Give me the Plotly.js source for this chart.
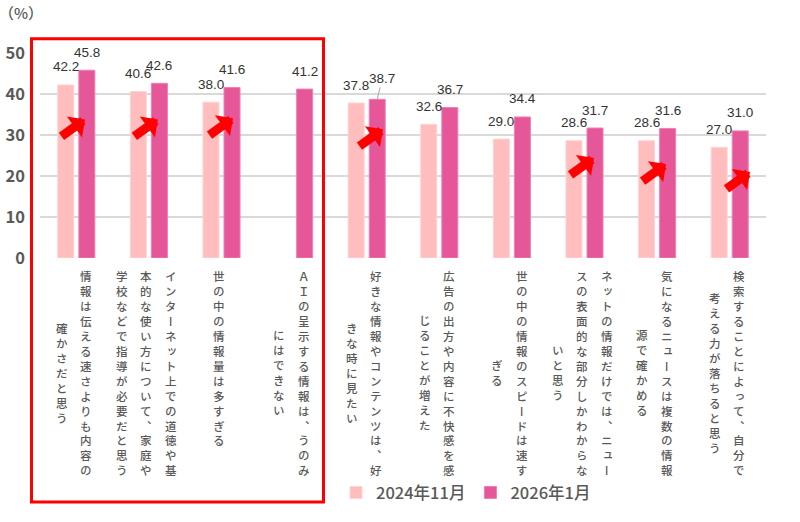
<!DOCTYPE html>
<html>
<head>
<meta charset="utf-8">
<script src="https://cdn.plot.ly/plotly-3.0.1.min.js"></script>
<style>
  html, body { margin: 0; padding: 0; background: #ffffff; }
  #chart { width: 800px; height: 522px; }
</style>
</head>
<body>
<div id="chart"></div>
<script>
// Survey items, one entry per column of vertical text (right column first)
const categoryLines = [
  ["情報は伝える速さよりも内容の", "確かさだと思う"],
  ["インターネット上での道徳や基", "本的な使い方について、家庭や", "学校などで指導が必要だと思う"],
  ["世の中の情報量は多すぎる"],
  ["ＡＩの呈示する情報は、うのみ", "にはできない"],
  ["好きな情報やコンテンツは、好", "きな時に見たい"],
  ["広告の出方や内容に不快感を感", "じることが増えた"],
  ["世の中の情報のスピードは速す", "ぎる"],
  ["ネットの情報だけでは、ニュー", "スの表面的な部分しかわからな", "いと思う"],
  ["気になるニュースは複数の情報", "源で確かめる"],
  ["検索することによって、自分で", "考える力が落ちると思う"]
];
const seriesNames = ["2024年11月", "2026年1月"];
const nov2024 = [42.2, 40.6, 38.0, null, 37.8, 32.6, 29.0, 28.6, 28.6, 27.0];
const jan2026 = [45.8, 42.6, 41.6, 41.2, 38.7, 36.7, 34.4, 31.7, 31.6, 31.0];
const yTicks = [0, 10, 20, 30, 40, 50];
const unitLabel = "（%）";

// Items where the newer value rose notably: [item index, x offset px, y value of tip]
const riseArrows = [
  [0, 8.7, 33.8], [1, 9.0, 33.8], [2, 11.5, 34.1], [4, 16.3, 31.4],
  [7, 9.5, 24.4], [8, 9.0, 22.9], [9, 20.3, 21.0]
];

const categories = categoryLines.map(lines => lines.join(""));

// Frame geometry (pixels)
const W = 800, H = 522, ML = 40, MR = 34, MT = 53, MB = 262;
const plotW = W - ML - MR, plotH = H - MT - MB;
const BARGAP = 0.42, GROUPGAP = 0.24;
const slotW = plotW / categories.length;
const barOffset = slotW * (1 - BARGAP) / 4;
const px = v => (v - ML) / plotW;
const py = v => (MT + plotH - v) / plotH;

const PINK = "#FFBDBD", MAGENTA = "#E6579A";
const JP = "Noto Sans CJK JP, Noto Sans, sans-serif";
const TEXT_GREY = "#595959";

const traces = [
  {
    type: "bar", name: seriesNames[0], x: categories, y: nov2024,
    marker: { color: PINK, line: { color: "#FFD3D3", width: 1 } },
    hoverinfo: "skip"
  },
  {
    type: "bar", name: seriesNames[1], x: categories, y: jan2026,
    marker: { color: MAGENTA, line: { color: "#F07FB0", width: 1 } },
    hoverinfo: "skip"
  }
];

const annotations = [];

// value labels above each bar
[nov2024, jan2026].forEach((series, s) => {
  series.forEach((v, i) => {
    if (v === null) return;
    const a = {
      x: categories[i], y: v, xref: "x", yref: "y",
      text: v.toFixed(1), xanchor: "center", yanchor: "middle",
      xshift: (s === 0 ? -1 : 1) * barOffset,
      font: { family: "Liberation Sans, Arial, sans-serif", size: 13.5, color: "#333333" },
      showarrow: false, yshift: 18
    };
    if (s === 1 && i === 4) {
      // label nudged aside with a leader line
      Object.assign(a, {
        showarrow: true, arrowhead: 0, arrowwidth: 1, arrowcolor: "#A6A6A6",
        ax: 5, ay: -21, standoff: 0, yshift: 0
      });
    }
    annotations.push(a);
  });
});

// red "increase" arrows
riseArrows.forEach(([i, dx, yv]) => {
  annotations.push({
    x: categories[i], y: yv, xref: "x", yref: "y", xshift: dx,
    text: "", showarrow: true, arrowhead: 1, arrowsize: 0.48, arrowwidth: 9,
    arrowcolor: "#FF0000", ax: -25, ay: 18, standoff: 0
  });
});

// vertical category labels: one annotation per column, one character per line
const V_FONT = 11.5, V_TOP = 273, COL_GAP = 24.5;
const verticalStart = annotations.length;
categoryLines.forEach((lines, i) => {
  const longest = Math.max(...lines.map(l => Array.from(l).length));
  const centerY = V_TOP + ((longest - 1) * 1.3 * V_FONT + V_FONT) / 2;
  lines.forEach((line, j) => {
    annotations.push({
      x: categories[i], xref: "x", y: py(centerY), yref: "paper",
      xshift: -2.5 + ((lines.length - 1) / 2 - j) * COL_GAP,
      text: Array.from(line).join("<br>"),
      xanchor: "center", yanchor: "middle", align: "center",
      font: { family: JP, size: V_FONT, color: TEXT_GREY, weight: 500 },
      showarrow: false
    });
  });
});
const verticalEnd = annotations.length;

// unit label
annotations.push({
  x: px(21), y: py(12), xref: "paper", yref: "paper",
  text: unitLabel, showarrow: false, xanchor: "center", yanchor: "middle",
  font: { family: JP, size: 15, color: TEXT_GREY, weight: 500 }
});

const layout = {
  width: W, height: H,
  margin: { l: ML, r: MR, t: MT, b: MB, pad: 0 },
  paper_bgcolor: "#ffffff", plot_bgcolor: "#ffffff",
  barmode: "group", bargap: BARGAP, bargroupgap: GROUPGAP,
  hovermode: false,
  xaxis: {
    type: "category", range: [-0.5, categories.length - 0.5],
    showticklabels: false, showgrid: false, zeroline: false, showline: false,
    ticks: "", fixedrange: true
  },
  yaxis: {
    range: [0, 50], tickvals: yTicks, ticktext: yTicks.map(String),
    showgrid: true, gridcolor: "#D9D9D9", gridwidth: 1.5,
    zeroline: false, showline: false, ticks: "",
    ticklabelstandoff: 14,
    tickfont: { family: JP, size: 16.5, color: TEXT_GREY, weight: 600 },
    fixedrange: true
  },
  showlegend: true,
  legend: {
    orientation: "h", x: px(466), xanchor: "center", y: py(497), yanchor: "middle",
    font: { family: JP, size: 16.5, color: TEXT_GREY, weight: 500 },
    itemclick: false, itemdoubleclick: false, traceorder: "normal"
  },
  shapes: [
    {
      type: "rect", xref: "paper", yref: "paper",
      x0: px(31.5), x1: px(323.5), y0: py(38.5), y1: py(506.5),
      line: { color: "#FF0000", width: 3 }, fillcolor: "rgba(0,0,0,0)", layer: "above"
    }
  ],
  annotations: annotations
};

Plotly.newPlot("chart", traces, layout, { staticPlot: true, displayModeBar: false }).then(gd => {
  // use the font's vertical glyph forms (ー, 、, small kana) for the stacked labels
  for (let k = verticalStart; k < verticalEnd; k++) {
    gd.querySelectorAll('g.annotation[data-index="' + k + '"] text').forEach(t => {
      t.style.fontFeatureSettings = '"vert" 1';
    });
  }
});
</script>
</body>
</html>
